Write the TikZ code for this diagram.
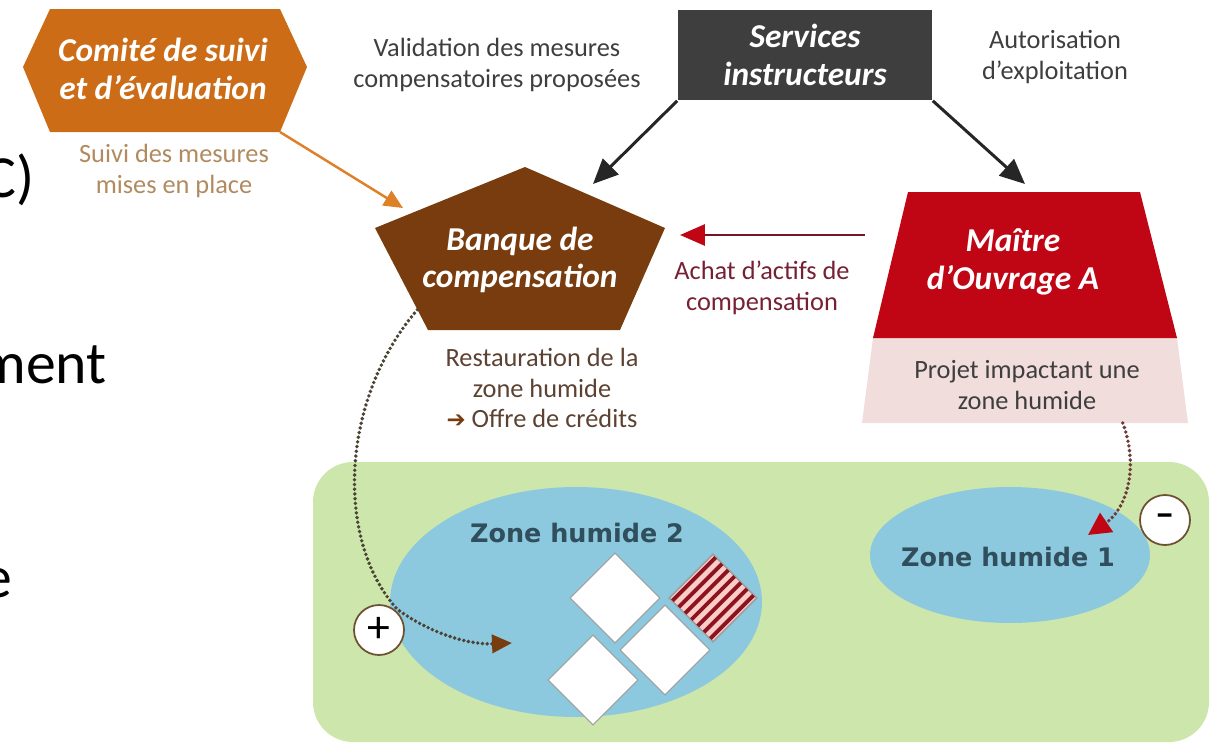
\documentclass[tikz,border=0pt]{standalone}
\usepackage{fontspec}
\setmainfont{Carlito}
\newfontfamily\dejavu{DejaVu Sans}
\usepackage{tikz}
\usetikzlibrary{arrows.meta, calc, positioning, shapes.geometric}

\definecolor{comiteor}{RGB}{205,108,22}
\definecolor{servgray}{RGB}{62,62,62}
\definecolor{banqbr}{RGB}{120,60,14}
\definecolor{maitrered}{RGB}{192,6,20}
\definecolor{projpink}{RGB}{242,221,221}
\definecolor{meadow}{RGB}{204,230,172}
\definecolor{wetblue}{RGB}{140,200,222}
\definecolor{zonetext}{RGB}{48,78,92}
\definecolor{graytext}{RGB}{62,62,62}
\definecolor{tantext}{RGB}{178,138,96}
\definecolor{maroontext}{RGB}{118,32,52}
\definecolor{resttext}{RGB}{92,66,50}
\definecolor{orangelink}{RGB}{222,128,40}
\definecolor{redlink}{RGB}{120,20,40}
\definecolor{stripered}{RGB}{140,20,30}
\definecolor{stripepink}{RGB}{250,205,200}
\definecolor{dotbrown}{RGB}{75,68,52}
\definecolor{dotred}{RGB}{110,60,55}
\definecolor{signbr}{RGB}{110,80,50}

\begin{document}
\begin{tikzpicture}[x=0.02cm,y=-0.02cm,>=Triangle,
   title/.style={text=white,align=center,font=\fontsize{19}{21.5}\selectfont\bfseries\itshape},
   note/.style={align=center,font=\fontsize{15}{17.4}\selectfont},
   zone/.style={text=zonetext,font=\dejavu\fontsize{14.5}{17}\selectfont\bfseries},
   tile/.style={diamond,draw=gray!75,fill=white,line width=0.6pt,minimum size=1.8cm,inner sep=0pt},
   sign/.style={circle,draw=signbr,fill=white,line width=1pt,minimum size=1cm,inner sep=0pt},
   link/.style={line width=1.7pt},
   dots/.style={line width=2.2pt,line cap=round,dash pattern=on 0pt off 2.7pt},
   frag/.style={anchor=base east,inner sep=0pt,font=\fontsize{34}{40}\selectfont}]
  \useasboundingbox (0,0) rectangle (1215,744);
  \clip (0,0) rectangle (1215,744);
  % leftover text of the slide
  \node[frag] (fragC) at (35,197) {C)};
  \node[frag] (fragM) at (107,383) {ment};
  \node[frag] (fragE) at (13,597) {e};
  % meadow and wetlands
  \fill[meadow,rounded corners=0.8cm] (313,462) rectangle (1209,742);
  \fill[wetblue] (576,602) ellipse [x radius=3.72cm,y radius=2.3cm];
  \fill[wetblue] (1010,555) ellipse [x radius=2.8cm,y radius=1.36cm];
  \node[zone] (zh2) at (577,533) {Zone humide 2};
  \node[zone] (zh1) at (1008,557) {Zone humide 1};
  % credit tiles
  \foreach \cx/\cy [count=\i] in {615/598,665/650,593/680}
    \node[tile] (tile\i) at (\cx,\cy) {};
  \node[tile,fill=stripepink,minimum size=1.74cm] (tileS) at (713,598) {};
  \begin{scope}
    \clip (tileS.north) -- (tileS.east) -- (tileS.south) -- (tileS.west) -- cycle;
    \foreach \k in {-3,...,3}
      \draw[stripered,line width=2.2pt] ($(tileS.center)+(\k*6.3,\k*6.3)+(-50,50)$) -- ++(100,-100);
  \end{scope}
  \draw[gray!75,line width=0.6pt] (tileS.north) -- (tileS.east) -- (tileS.south) -- (tileS.west) -- cycle;

  % Comite de suivi
  \fill[comiteor] (23,67) -- (50,9) -- (280,9) -- (307,67) -- (280,132) -- (50,132) -- cycle;
  \coordinate (comSE) at (280,132);
  \node[title] (comite) at (163,69) {Comité de suivi\\et d’évaluation};
  \node[note,text=tantext] (suivi) at (174,171) {Suivi des mesures\\mises en place};
  % Services instructeurs
  \node[title,fill=servgray,minimum width=5.1cm,minimum height=1.82cm] (serv) at (805,55) {Services\\instructeurs};
  \node[note,text=graytext] (valid) at (497,65) {Validation des mesures\\compensatoires proposées};
  \node[note,text=graytext] (autor) at (1055,57) {Autorisation\\d’exploitation};
  % Banque de compensation
  \coordinate (bT) at (525,167);
  \coordinate (bL) at (375,228);
  \coordinate (bR) at (665,228);
  \coordinate (bBL) at (428,330);
  \coordinate (bBR) at (620,330);
  \fill[banqbr] (bT) -- (bR) -- (bBR) -- (bBL) -- (bL) -- cycle;
  \node[title] (banque) at (520,260) {Banque de\\compensation};
  \node[note,text=resttext] (resto) at (542,388) {Restauration de la\\zone humide\\{\dejavu\color{banqbr}\fontsize{13}{13}\selectfont ➔} Offre de crédits};
  % Maitre d'Ouvrage
  \coordinate (mTL) at (908,192);
  \coordinate (mTR) at (1140,192);
  \coordinate (mBL) at (873,338);
  \coordinate (mBR) at (1177,338);
  \coordinate (pBL) at (862,423);
  \coordinate (pBR) at (1188,423);
  \fill[projpink] (mBL) -- (mBR) -- (pBR) -- (pBL) -- cycle;
  \fill[maitrered] (mTL) -- (mTR) -- (mBR) -- (mBL) -- cycle;
  \node[title] (maitre) at (1013,262) {Maître\\d’Ouvrage A};
  \node[note,text=graytext] (projet) at (1027,385) {Projet impactant une\\zone humide};
  \node[note,text=maroontext] (achat) at (762,288) {Achat d’actifs de\\compensation};

  % links
  \coordinate (banqIn) at (403,208);
  \coordinate (banqTop) at (593,184);
  \coordinate (maitreTop) at (1025,184);
  \coordinate (buyFrom) at (865,235);
  \coordinate (buyTo) at (680,235);
  \draw[link,orangelink,line width=1.4pt,-{Triangle[length=0.38cm,width=0.34cm]}] (comSE) -- (banqIn);
  \draw[link,black!85,-{Triangle[length=0.5cm,width=0.44cm]}] (serv.south west) -- (banqTop);
  \draw[link,black!85,-{Triangle[length=0.5cm,width=0.44cm]}] (serv.south east) -- (maitreTop);
  \draw[link,redlink,-{Triangle[length=0.5cm,width=0.42cm,fill=maitrered,color=maitrered]}] (buyFrom) -- (buyTo);
  % dotted flows
  \draw[dots,dotbrown,-{Triangle[length=0.4cm,width=0.36cm,fill=banqbr,color=banqbr]}]
    ($(bL)!0.8!(bBL)$) .. controls (340,400) and (335,540) .. (397,609)
    .. controls (425,630) and (465,645) .. (512,643);
  \draw[dots,dotred,-{Triangle[length=0.45cm,width=0.45cm,fill=maitrered,color=maitrered]}]
    ($(pBL)!0.8!(pBR)$) .. controls (1140,470) and (1125,510) .. (1088,535);
  \node[sign,font=\fontsize{26}{26}\selectfont] (plus) at (379,630) {+};
  \node[sign,font=\fontsize{22}{22}\selectfont\bfseries] (minus) at (1165,520) {–};
\end{tikzpicture}
\end{document}
